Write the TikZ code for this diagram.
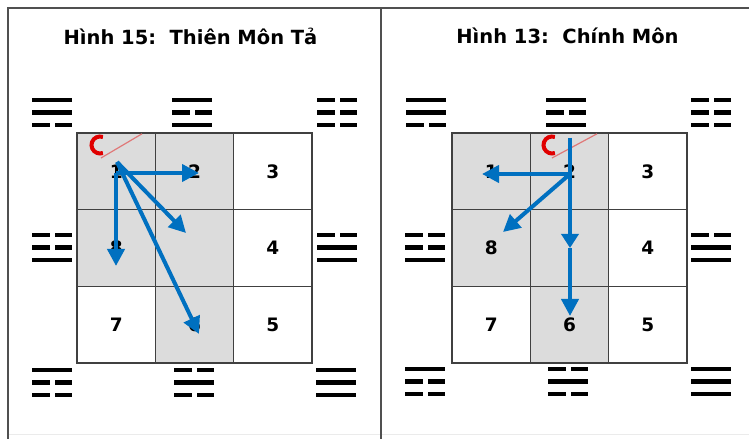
\documentclass[tikz,border=0pt]{standalone}
\usepackage{fontspec}
\setmainfont{DejaVu Sans}
\usetikzlibrary{arrows.meta}
\definecolor{arrowblue}{HTML}{0070C0}
\definecolor{cellgray}{HTML}{DCDCDC}
\definecolor{framegray}{HTML}{505050}
\definecolor{gridgray}{HTML}{404040}
\definecolor{pinkline}{HTML}{E07878}
\definecolor{markred}{HTML}{E00000}
\newcommand\yaoline[3]{%
  \ifnum#3=1
    \fill[black] (#1,#2-2.2) rectangle (#1+40,#2+2.2);
  \else
    \fill[black] (#1,#2-2.2) rectangle (#1+17.5,#2+2.2);
    \fill[black] (#1+22.5,#2-2.2) rectangle (#1+40,#2+2.2);
  \fi}
\newcommand\trigram[5]{\yaoline{#1}{#2}{#3}\yaoline{#1}{#2+12.5}{#4}\yaoline{#1}{#2+25}{#5}}
\tikzset{
  cell/.style={draw=gridgray, line width=1.5bp, minimum width=78.33bp, minimum height=76.67bp,
    inner sep=0pt, font=\bfseries\fontsize{18.5bp}{18.5bp}\selectfont},
  shaded/.style={cell, fill=cellgray},
  plain/.style={cell, fill=white},
  titletext/.style={font=\bfseries\fontsize{19.5bp}{20bp}\selectfont, inner sep=0pt},
  arr/.style={draw=arrowblue, line width=4bp, -{Triangle[length=17bp,width=17bp]}},
  arrmid/.style={draw=arrowblue, line width=4bp, -{Triangle[length=14bp,width=17bp]}},
  framel/.style={draw=framegray, line width=2bp},
  redmark/.style={draw=markred, line width=4bp},
  pinkmark/.style={draw=pinkline, line width=1.2bp}
}
\begin{document}
\begin{tikzpicture}[x=1bp, y=-1bp]
\useasboundingbox (0,0) rectangle (749,439);
\fill[white] (0,0) rectangle (749,439);
% frame
\draw[framel] (8,439) -- (8,8) -- (749,8);
\draw[framel] (381,8) -- (381,439);
\draw[draw=black!8, line width=1bp] (9,434) -- (380,434) (382,434) -- (749,434);
% titles
\node[titletext] (title1) at (190.5,36) {Hình 15:\ \ Thiên Môn Tả};
\node[titletext] (title2) at (567.5,36) {Hình 13:\ \ Chính Môn};
% left grid
\node[shaded] (L1) at (116.2,171.3) {1};
\node[shaded] (L2) at (194.5,171.3) {2};
\node[plain]  (L3) at (272.8,171.3) {3};
\node[shaded] (L8) at (116.2,248) {8};
\node[shaded] (L0) at (194.5,248) {};
\node[plain]  (L4) at (272.8,248) {4};
\node[plain]  (L7) at (116.2,324.7) {7};
\node[shaded] (L6) at (194.5,324.7) {6};
\node[plain]  (L5) at (272.8,324.7) {5};
% right grid
\node[shaded] (R1) at (491.2,171.3) {1};
\node[shaded] (R2) at (569.5,171.3) {2};
\node[plain]  (R3) at (647.8,171.3) {3};
\node[shaded] (R8) at (491.2,248) {8};
\node[shaded] (R0) at (569.5,248) {};
\node[plain]  (R4) at (647.8,248) {4};
\node[plain]  (R7) at (491.2,324.7) {7};
\node[shaded] (R6) at (569.5,324.7) {6};
\node[plain]  (R5) at (647.8,324.7) {5};
% trigrams left panel
\trigram{32}{100}{1}{1}{0}
\trigram{172}{100}{1}{0}{1}
\trigram{317}{100}{0}{0}{0}
\trigram{32}{235}{0}{0}{1}
\trigram{317}{235}{0}{1}{1}
\trigram{32}{370}{1}{0}{0}
\trigram{174}{370}{0}{1}{0}
\trigram{316}{370}{1}{1}{1}
% trigrams right panel
\trigram{406}{100}{1}{1}{0}
\trigram{546}{100}{1}{0}{1}
\trigram{691}{100}{0}{0}{0}
\trigram{405}{235}{0}{0}{1}
\trigram{691}{235}{0}{1}{1}
\trigram{405}{369}{1}{0}{0}
\trigram{548}{369}{0}{1}{0}
\trigram{691}{369}{1}{1}{1}
% marks left
\coordinate (LpA) at (101,158);
\coordinate (LpB) at (142,133.8);
\draw[pinkmark] (LpA) -- (LpB);
\draw[redmark] (100,145) ++(290:8.5) arc[start angle=290, end angle=70, radius=8.5];
% marks right
\coordinate (RpA) at (552,158);
\coordinate (RpB) at (597,133.8);
\draw[pinkmark] (RpA) -- (RpB);
\draw[redmark] (552,145) ++(290:8.5) arc[start angle=290, end angle=70, radius=8.5];
% left arrows
\coordinate (Lo) at (117,162);
\coordinate (Lh) at (116,173);
\coordinate (LtH) at (199,173);
\coordinate (LtV) at (116,266);
\coordinate (LtD) at (186,233);
\coordinate (LtL) at (199,334);
\draw[arr] (Lh) -- (LtH);
\draw[arr] (Lh) -- (LtV);
\draw[arr] (Lo) -- (LtD);
\draw[arr] (Lo) -- (LtL);
% right arrows
\coordinate (Ro) at (570,138);
\coordinate (Rc) at (570,174);
\coordinate (Rm) at (570,248);
\coordinate (RtV) at (570,316);
\coordinate (RtH) at (482,174);
\coordinate (RtD) at (503,232);
\draw[arrmid] (Ro) -- (Rm);
\draw[arr] (Rm) -- (RtV);
\draw[arr] (Rc) -- (RtH);
\draw[arr] (Rc) -- (RtD);
\end{tikzpicture}
\end{document}
